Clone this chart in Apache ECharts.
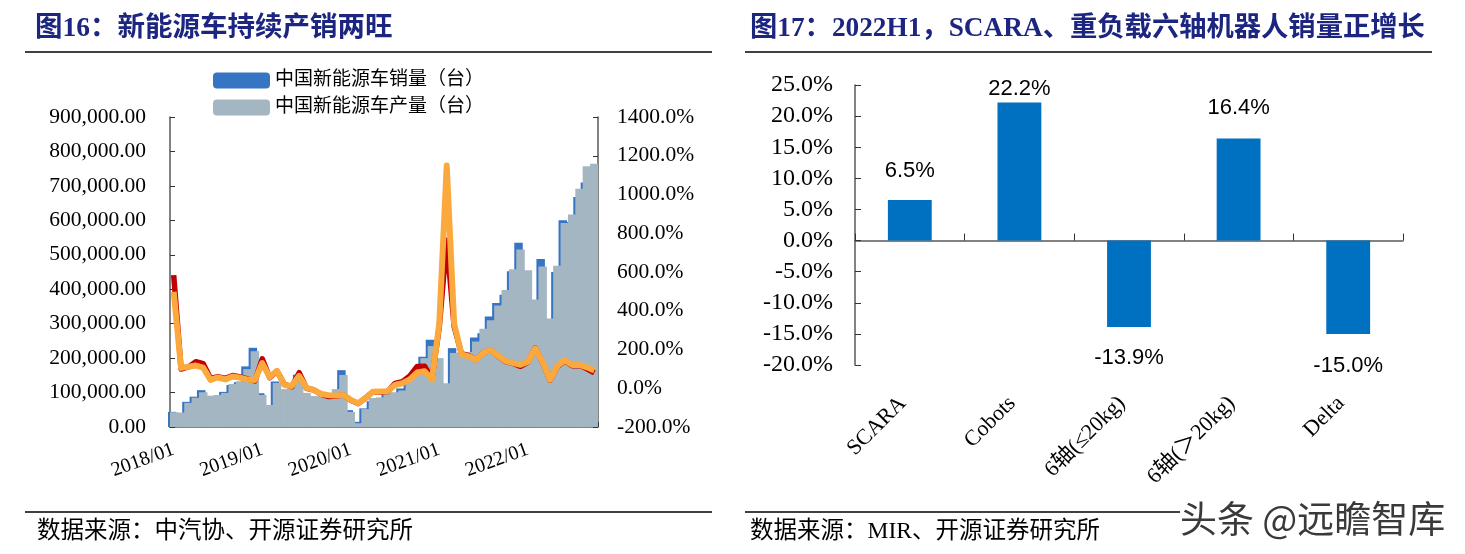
<!DOCTYPE html>
<html><head><meta charset="utf-8">
<script src="https://cdn.jsdelivr.net/npm/echarts@6/dist/echarts.min.js"></script>
<style>html,body{margin:0;padding:0;background:#fff}#c{width:1465px;height:554px}</style>
</head><body><div id="c"></div>
<script>
// ---- Figure 16 data ----
const months = ['2018/01','2018/02','2018/03','2018/04','2018/05','2018/06','2018/07','2018/08','2018/09','2018/10','2018/11','2018/12',
'2019/01','2019/02','2019/03','2019/04','2019/05','2019/06','2019/07','2019/08','2019/09','2019/10','2019/11','2019/12',
'2020/01','2020/02','2020/03','2020/04','2020/05','2020/06','2020/07','2020/08','2020/09','2020/10','2020/11','2020/12',
'2021/01','2021/02','2021/03','2021/04','2021/05','2021/06','2021/07','2021/08','2021/09','2021/10','2021/11','2021/12',
'2022/01','2022/02','2022/03','2022/04','2022/05','2022/06','2022/07','2022/08','2022/09','2022/10'];
// 中国新能源车销量（台）
const salesVol = [44000,30000,73000,88000,107000,88000,86000,102000,122000,130000,176000,230000,
98000,54000,132000,100000,104000,152000,84000,85000,80000,75000,95000,165000,
49000,15000,54000,75000,83000,104000,98000,112000,138000,162000,204000,253000,
180000,112000,229000,206000,217000,260000,272000,321000,360000,384000,452000,535000,
431000,334000,488000,300000,450000,600000,595000,668000,710000,716000];
// 中国新能源车产量（台）
const prodVol = [43000,42000,70000,85000,101000,91000,93000,99000,125000,133000,168000,220000,
93000,64000,128000,110000,112000,134000,99000,90000,89000,90000,110000,151000,
44000,11000,52000,84000,86000,100000,101000,106000,136000,175000,200000,235000,
200000,127000,215000,217000,218000,248000,285000,310000,353000,398000,458000,515000,
455000,370000,466000,315000,468000,592000,617000,692000,757000,764000];
// 销量同比 (%)
const salesYoY = [584,99,110,137,127,51,60,51,66,58,48,38,
152,55,88,20,8,80,0,-9,-32,-43,-40,-35,
-62,-79,-50,-18,-20,-17,25,34,63,112,114,48,
318,764,320,178,168,148,184,197,165,138,128,113,
135,208,133,42,112,142,116,118,100,80];
// 产量同比 (%)
const prodYoY = [498,105,111,117,106,43,56,46,61,55,45,42,
130,58,90,17,12,64,2,-8,-30,-36,-37,-35,
-60,-78,-50,-18,-17,-16,17,26,46,82,88,45,
338,1150,335,175,165,147,184,197,166,140,130,121,
137,206,135,44,115,145,120,120,108,92];

// ---- Figure 17 data ----
const robotCats = ['SCARA','Cobots','6轴(≤20kg)','6轴(＞20kg)','Delta'];
const robotGrowth = [6.5, 22.2, -13.9, 16.4, -15.0];
// label gaps (style only)
const robotLabelGap = [18, 2, 20, 20, 21];

const serif = '"Liberation Serif","Times New Roman","Noto Sans CJK SC",serif';
const axisColor = '#595959';

const chart = echarts.init(document.getElementById('c'), null, {renderer:'canvas'});
const option = {
  animation: false,
  backgroundColor: '#fff',
  legend: {
    data: ['中国新能源车销量（台）','中国新能源车产量（台）'],
    orient: 'vertical', left: 208, top: 66,
    itemWidth: 57, itemHeight: 16, itemGap: 8,
    icon: 'roundRect',
    textStyle: {fontFamily: serif, fontSize: 19, color: '#000'}
  },
  grid: [
    {left: 170, top: 117, width: 428, height: 310, outerBoundsMode: 'none'},
    {left: 168, top: 117, width: 428, height: 310, outerBoundsMode: 'none'},
    {left: 855, top: 85, width: 548, height: 280, outerBoundsMode: 'none'}
  ],
  xAxis: [
    {gridIndex: 0, type: 'category', data: months, boundaryGap: true,
     axisLine: {show: true, onZero: false, lineStyle: {color: axisColor, width: 1.5}},
     axisTick: {show: true, inside: true, length: 5, interval: 0, lineStyle: {color: '#333'}},
     axisLabel: {interval: 11, rotate: 20, fontFamily: serif, fontSize: 20, color: '#000', margin: 22},
     splitLine: {show: false}},
    {gridIndex: 1, type: 'category', data: months, show: false},
    {gridIndex: 2, type: 'category', data: robotCats, position: 'bottom',
     axisLine: {show: false, onZero: false}, axisTick: {show: false},
     axisLabel: {rotate: 45, interval: 0, fontFamily: serif, fontSize: 22, color: '#000', margin: 28, padding: [0, 10, 0, 0]},
     splitLine: {show: false}},
    {gridIndex: 2, type: 'category', data: robotCats, position: 'top',
     axisLine: {show: true, onZero: true, lineStyle: {color: axisColor, width: 1.5}},
     axisTick: {show: true, inside: false, length: 7, interval: 0, lineStyle: {color: '#333'}},
     axisLabel: {show: false}, splitLine: {show: false}}
  ],
  yAxis: [
    {gridIndex: 0, type: 'value', min: 0, max: 900000, interval: 100000, position: 'left',
     axisLine: {show: true, lineStyle: {color: axisColor, width: 1.5}},
     axisTick: {show: true, inside: true, length: 5, lineStyle: {color: '#333'}},
     splitLine: {show: false},
     axisLabel: {fontFamily: serif, fontSize: 21.5, color: '#000', margin: 24,
       formatter: v => v.toLocaleString('en-US', {minimumFractionDigits: 2, maximumFractionDigits: 2})}},
    {gridIndex: 0, type: 'value', min: -200, max: 1400, interval: 200, position: 'right',
     axisLine: {show: true, lineStyle: {color: axisColor, width: 1.5}},
     axisTick: {show: true, inside: true, length: 5, lineStyle: {color: '#333'}},
     splitLine: {show: false},
     axisLabel: {fontFamily: serif, fontSize: 21.5, color: '#000', margin: 19,
       formatter: v => v.toFixed(1) + '%'}},
    {gridIndex: 1, type: 'value', min: 0, max: 900000, interval: 100000, show: false, splitLine: {show: false}},
    {gridIndex: 2, type: 'value', min: -20, max: 25, interval: 5,
     axisLine: {show: true, lineStyle: {color: axisColor, width: 1.5}},
     axisTick: {show: true, inside: true, length: 6, lineStyle: {color: '#333'}},
     splitLine: {show: false},
     axisLabel: {fontFamily: serif, fontSize: 24, color: '#000', margin: 22,
       formatter: v => v.toFixed(1) + '%'}}
  ],
  series: [
    {name: '中国新能源车销量（台）', type: 'bar', xAxisIndex: 1, yAxisIndex: 2, data: salesVol,
     barWidth: '115%', itemStyle: {color: '#3674C4'}},
    {name: '中国新能源车产量（台）', type: 'bar', xAxisIndex: 0, yAxisIndex: 0, data: prodVol,
     barWidth: '115%', itemStyle: {color: '#A3B6C2'}},
    {name: '销量同比', type: 'line', xAxisIndex: 0, yAxisIndex: 1, data: salesYoY,
     symbol: 'none', lineStyle: {color: '#C00000', width: 5.5, join: 'round'}},
    {name: '产量同比', type: 'line', xAxisIndex: 0, yAxisIndex: 1, data: prodYoY,
     symbol: 'none', lineStyle: {color: '#FBA83C', width: 6, join: 'round'}},
    {name: '增速', type: 'bar', xAxisIndex: 2, yAxisIndex: 3, barWidth: '40%',
     itemStyle: {color: '#0070C0'},
     data: robotGrowth.map((v, i) => ({value: v, label: {position: v >= 0 ? 'top' : 'bottom', distance: robotLabelGap[i]}})),
     label: {show: true, fontFamily: '"Liberation Sans","Open Sans",sans-serif', fontSize: 22, color: '#000',
       formatter: p => p.value.toFixed(1) + '%'}}
  ],
  graphic: [
    {type: 'text', x: 35, y: 29, style: {text: '图16：新能源车持续产销两旺', fontSize: 27.5, fontWeight: 'bold',
      fontFamily: serif, fill: '#1c2680', verticalAlign: 'middle'}},
    {type: 'text', x: 750, y: 29, style: {text: '图17：2022H1，SCARA、重负载六轴机器人销量正增长', fontSize: 27.3, fontWeight: 'bold',
      fontFamily: serif, fill: '#1c2680', verticalAlign: 'middle'}},
    {type: 'line', shape: {x1: 25, y1: 52, x2: 712, y2: 52}, style: {stroke: '#000', lineWidth: 1.5}},
    {type: 'line', shape: {x1: 745, y1: 52, x2: 1432, y2: 52}, style: {stroke: '#000', lineWidth: 1.5}},
    {type: 'line', shape: {x1: 25, y1: 512, x2: 712, y2: 512}, style: {stroke: '#000', lineWidth: 1.5}},
    {type: 'line', shape: {x1: 745, y1: 512, x2: 1180, y2: 512}, style: {stroke: '#000', lineWidth: 1.5}},
    {type: 'text', x: 37, y: 532, style: {text: '数据来源：中汽协、开源证券研究所', fontSize: 23.5,
      fontFamily: serif, fill: '#000', verticalAlign: 'middle'}},
    {type: 'text', x: 750, y: 532, style: {text: '数据来源：MIR、开源证券研究所', fontSize: 23.5,
      fontFamily: serif, fill: '#000', verticalAlign: 'middle'}},
    {type: 'text', x: 1180, y: 519, z: 100, style: {text: '头条 @远瞻智库', fontSize: 37,
      fontFamily: '"Noto Sans CJK SC",sans-serif', fill: '#3a3a3a', stroke: '#fff', lineWidth: 3, verticalAlign: 'middle'}}
  ]
};
chart.setOption(option);
</script></body></html>
